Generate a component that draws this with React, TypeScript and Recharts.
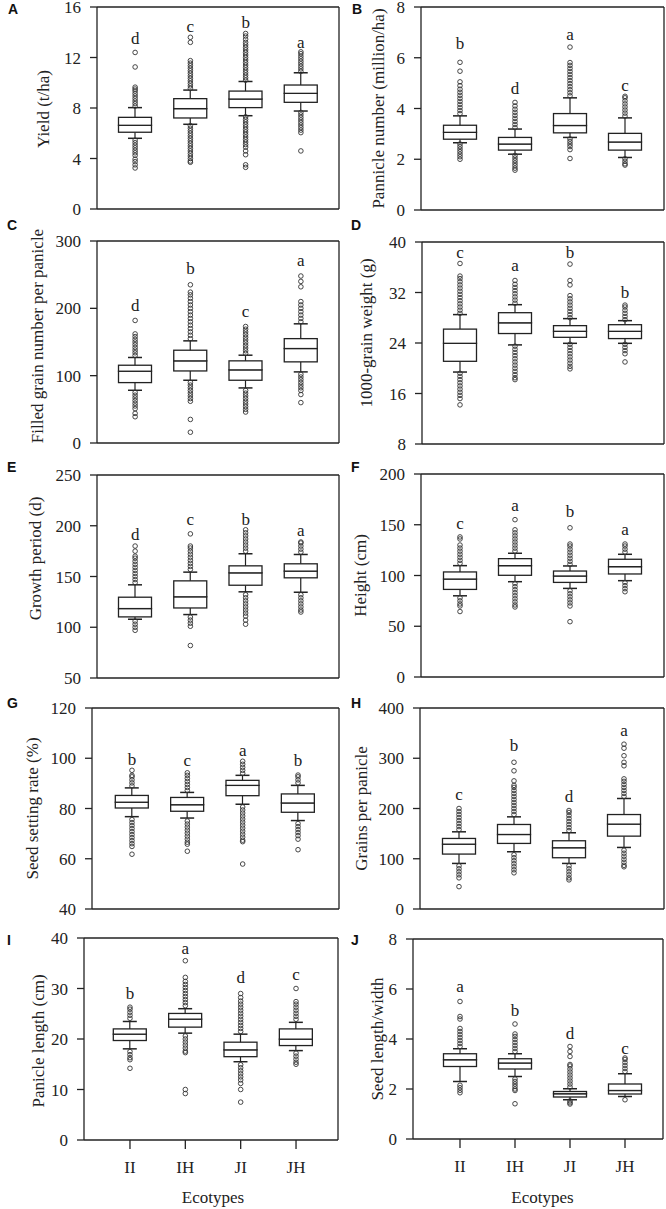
import React from 'react';
import { ComposedChart, Bar, Scatter, XAxis, YAxis } from 'recharts';

const categories = ['II', 'IH', 'JI', 'JH'];

// Each stats row: [lower whisker, Q1, median, Q3, upper whisker]
// A - Yield
const yieldTicks = [0, 4, 8, 12, 16];
const yieldStats = [
  [5.6, 6.08, 6.63, 7.26, 8.03],
  [6.71, 7.21, 7.95, 8.74, 9.42],
  [7.39, 8.03, 8.71, 9.34, 10.1],
  [7.76, 8.45, 9.16, 9.82, 10.79],
];
const yieldOutliers = [
  [8.15, 8.35, 8.55, 8.75, 8.95, 9.15, 9.35, 9.5, 9.65, 11.25, 12.4, 5.45, 5.25, 5.05, 4.85, 4.65, 4.45, 4.25, 3.95, 3.75, 3.5, 3.25],
  [9.55, 9.75, 9.95, 10.15, 10.35, 10.55, 10.75, 10.95, 11.15, 11.35, 11.55, 11.75, 13.2, 13.6, 6.6, 6.4, 6.2, 6.0, 5.8, 5.6, 5.4, 5.2, 5.0, 4.8, 4.6, 4.4, 4.2, 4.0, 3.8, 3.7],
  [10.2, 10.4, 10.6, 10.8, 11.0, 11.2, 11.4, 11.6, 11.8, 12.0, 12.2, 12.4, 12.6, 12.8, 13.0, 13.2, 13.45, 13.7, 13.9, 7.3, 7.1, 6.9, 6.7, 6.5, 6.3, 6.1, 5.9, 5.7, 5.5, 5.3, 5.1, 4.9, 4.6, 4.3, 3.5, 3.3],
  [10.9, 11.1, 11.3, 11.5, 11.7, 11.9, 12.1, 12.3, 12.45, 7.65, 7.45, 7.25, 7.05, 6.85, 6.65, 6.45, 6.25, 6.05, 4.6],
];
const yieldLetters = ['d', 'c', 'b', 'a'];
const yieldLetterY = [13.5, 14.47, 14.8, 13.16];

// B - Panicle number
const panicleTicks = [0, 2, 4, 6, 8];
const panicleStats = [
  [2.65, 2.79, 3.06, 3.34, 3.71],
  [2.2, 2.36, 2.6, 2.86, 3.19],
  [2.86, 3.04, 3.33, 3.8, 4.42],
  [2.07, 2.36, 2.68, 3.02, 3.63],
];
const panicleOutliers = [
  [3.8, 3.92, 4.04, 4.16, 4.28, 4.4, 4.52, 4.64, 4.76, 4.9, 5.05, 5.47, 5.82, 2.6, 2.5, 2.4, 2.3, 2.2, 2.1, 2.0],
  [3.25, 3.37, 3.49, 3.61, 3.73, 3.85, 3.97, 4.1, 4.24, 2.15, 2.05, 1.95, 1.85, 1.75, 1.65, 1.57],
  [4.5, 4.62, 4.74, 4.86, 4.98, 5.1, 5.22, 5.34, 5.46, 5.58, 5.7, 5.81, 6.42, 2.8, 2.7, 2.6, 2.5, 2.38, 2.03],
  [3.7, 3.82, 3.94, 4.06, 4.18, 4.3, 4.42, 4.48, 2.02, 1.92, 1.82, 1.77],
];
const panicleLetters = ['b', 'd', 'a', 'c'];
const panicleLetterY = [6.56, 4.79, 6.91, 4.92];

// C - Filled grain number per panicle
const filledTicks = [0, 100, 200, 300];
const filledStats = [
  [78.3, 89.7, 106.6, 115.5, 127],
  [93.2, 107, 122, 137.8, 151.7],
  [81.8, 93.2, 108.6, 122, 130.4],
  [105.6, 120.5, 140.3, 155, 177],
];
const filledOutliers = [
  [130, 134, 138, 142, 146, 150, 154, 158, 162, 182, 75, 71, 67, 63, 59, 55, 51, 44, 39],
  [155, 160, 165, 170, 175, 180, 185, 190, 195, 200, 205, 210, 215, 220, 224, 235, 90, 86, 82, 78, 74, 70, 66, 62, 35, 16],
  [133, 137, 141, 145, 149, 153, 157, 161, 165, 169, 173, 78, 74, 70, 66, 62, 58, 54, 50, 46],
  [180, 185, 190, 195, 200, 205, 210, 232, 240, 248, 102, 98, 94, 90, 86, 82, 78, 72, 60],
];
const filledLetters = ['d', 'b', 'c', 'a'];
const filledLetterY = [204.8, 259, 194.8, 271.7];

// D - 1000-grain weight
const tgwTicks = [8, 16, 24, 32, 40];
const tgwStats = [
  [19.4, 21.1, 23.95, 26.2, 28.5],
  [23.7, 25.5, 27.2, 28.8, 30.07],
  [23.95, 24.9, 25.85, 26.75, 27.86],
  [23.95, 24.7, 25.85, 26.9, 27.54],
];
const tgwOutliers = [
  [28.7, 29.2, 29.7, 30.2, 30.7, 31.2, 31.7, 32.2, 32.7, 33.2, 33.7, 34.2, 34.6, 36.6, 19.2, 18.7, 18.2, 17.7, 17.2, 16.7, 16.2, 15.7, 15.2, 14.2],
  [30.3, 30.8, 31.3, 31.8, 32.3, 32.8, 33.3, 33.9, 23.5, 23, 22.5, 22, 21.5, 21, 20.5, 20, 19.5, 19, 18.5, 18.2],
  [28.0, 28.5, 29, 29.5, 30, 30.5, 31, 31.5, 33.2, 33.9, 36.5, 23.8, 23.3, 22.8, 22.3, 21.8, 21.3, 20.8, 20.3, 19.9],
  [27.7, 28.2, 28.7, 29.2, 29.7, 30, 23.8, 23.3, 22.8, 22.3, 21.0],
];
const tgwLetters = ['c', 'a', 'b', 'b'];
const tgwLetterY = [38.3, 36.2, 38.26, 32.0];

// E - Growth period
const growthTicks = [50, 100, 150, 200, 250];
const growthStats = [
  [107.9, 110.2, 118.4, 129.6, 141.8],
  [112.5, 119, 130, 145.7, 154.3],
  [134.9, 141.4, 153.6, 160.5, 172.4],
  [134.5, 148.7, 155.3, 162.5, 171.7],
];
const growthOutliers = [
  [144, 147, 150, 153, 156, 159, 162, 165, 168, 170, 175, 180, 106, 103, 100, 97],
  [157, 160, 163, 166, 169, 172, 175, 178, 180, 192, 110, 107, 104, 101, 82],
  [175, 178, 181, 184, 187, 190, 193, 196, 132, 129, 126, 123, 120, 117, 114, 111, 107, 103],
  [174, 177, 180, 183, 184, 132, 129, 126, 123, 120, 117, 115],
];
const growthLetters = ['d', 'c', 'b', 'a'];
const growthLetterY = [191.4, 206.6, 206.6, 195.7];

// F - Height
const heightTicks = [0, 50, 100, 150, 200];
const heightStats = [
  [80, 86.3, 96.5, 103.5, 109.7],
  [93.9, 100.2, 109.7, 116.6, 121.9],
  [87.3, 93.2, 99.5, 104.4, 109.4],
  [94.9, 101.5, 108.7, 116, 120.9],
];
const heightOutliers = [
  [112, 115, 118, 121, 124, 127, 130, 136, 138, 78, 75, 72, 70, 64.5],
  [124, 127, 130, 133, 136, 139, 142, 145, 155, 92, 89, 86, 83, 80, 77, 74, 71, 69],
  [111, 114, 117, 120, 123, 126, 129, 131, 147, 85, 82, 79, 76, 73, 70, 54.5],
  [123, 126, 129, 131, 93, 90, 87, 84],
];
const heightLetters = ['c', 'a', 'b', 'a'];
const heightLetterY = [150.9, 169, 163, 145];

// G - Seed setting rate
const settingTicks = [40, 60, 80, 100, 120];
const settingStats = [
  [76.75, 80.2, 82.5, 85.2, 88.2],
  [76.2, 78.9, 81.5, 84.4, 86.4],
  [81.7, 85.1, 89.2, 91.2, 93.2],
  [75.2, 78.5, 82.2, 85.8, 89.2],
];
const settingOutliers = [
  [89, 90.2, 91.4, 92.6, 93.2, 95.2, 75.6, 74.4, 73.2, 72, 70.8, 69.6, 68.4, 67.2, 66, 64.9, 61.8],
  [87.2, 88.4, 89.6, 90.8, 92, 93.2, 94.2, 75, 73.8, 72.6, 71.4, 70.2, 69, 67.8, 66.6, 65.8, 63],
  [94, 95.2, 96.4, 97.6, 98.8, 80.6, 79.4, 78.2, 77, 75.8, 74.6, 73.4, 72.2, 71, 69.8, 68.6, 67.4, 66.8, 57.9],
  [90.2, 91.4, 92.6, 93.3, 74, 72.8, 71.6, 70.4, 69.2, 67.8, 63.6],
];
const settingLetters = ['b', 'c', 'a', 'b'];
const settingLetterY = [99.4, 99, 103.2, 99];

// H - Grains per panicle
const grainsTicks = [0, 100, 200, 300, 400];
const grainsStats = [
  [90.7, 109.3, 129, 140.4, 153.6],
  [113.9, 130.5, 148.3, 168.2, 183.4],
  [90.7, 102, 121.9, 135.8, 151.7],
  [122.5, 145, 168.9, 188, 219.9],
];
const grainsOutliers = [
  [158, 164, 170, 176, 182, 188, 194, 200, 86, 80, 74, 68, 62, 44.5],
  [188, 194, 200, 206, 212, 218, 224, 230, 236, 242, 246, 255, 275, 292, 108, 102, 96, 90, 84, 78, 72],
  [156, 162, 168, 174, 180, 186, 192, 196, 86, 80, 74, 68, 62, 58],
  [224, 230, 236, 242, 248, 254, 259, 285, 292, 305, 320, 328, 117, 111, 105, 99, 93, 87, 84],
];
const grainsLetters = ['c', 'b', 'd', 'a'];
const grainsLetterY = [227.8, 325.8, 223, 355.6];

// I - Panicle length
const plengthTicks = [0, 10, 20, 30, 40];
const plengthStats = [
  [18.05, 19.7, 20.96, 22.0, 23.47],
  [21.16, 22.35, 23.93, 25.06, 26],
  [15.5, 16.5, 17.85, 19.37, 20.96],
  [17.7, 18.7, 19.97, 22, 23.3],
];
const plengthOutliers = [
  [24.1, 24.7, 25.3, 25.9, 26.3, 17.5, 16.9, 16.3, 15.9, 14.2],
  [26.6, 27.2, 27.8, 28.4, 29, 29.6, 30.2, 30.8, 31.4, 32.2, 35.5, 20.6, 20, 19.4, 18.8, 18.2, 17.6, 17.3, 10, 9.2],
  [21.5, 22.1, 22.7, 23.3, 23.9, 24.5, 25.1, 25.7, 26.3, 26.9, 27.5, 28.2, 29, 14.9, 14.3, 13.7, 13.1, 12.5, 11.9, 11.2, 10.0, 7.5],
  [23.9, 24.5, 25.1, 25.7, 26.3, 26.9, 27.4, 30, 17.2, 16.6, 16, 15.4, 15],
];
const plengthLetters = ['b', 'a', 'd', 'c'];
const plengthLetterY = [29.1, 37.9, 32.1, 32.7];

// J - Seed length/width
const ratioTicks = [0, 2, 4, 6, 8];
const ratioStats = [
  [2.3, 2.9, 3.17, 3.41, 3.61],
  [2.5, 2.8, 3.04, 3.21, 3.41],
  [1.57, 1.68, 1.81, 1.9, 2.01],
  [1.7, 1.8, 1.94, 2.2, 2.61],
];
const ratioOutliers = [
  [3.7, 3.82, 3.94, 4.06, 4.18, 4.3, 4.42, 4.8, 4.9, 5.5, 2.15, 2.05, 1.95, 1.85],
  [3.5, 3.62, 3.74, 3.86, 3.98, 4.1, 4.2, 4.6, 2.4, 2.3, 2.2, 2.1, 2.0, 1.94, 1.41],
  [2.08, 2.2, 2.32, 2.44, 2.56, 2.68, 2.8, 2.92, 2.98, 3.3, 3.5, 3.7, 1.52, 1.45, 1.4],
  [2.7, 2.82, 2.94, 3.06, 3.18, 3.24, 1.57],
];
const ratioLetters = ['a', 'b', 'd', 'c'];
const ratioLetterY = [6.1, 5.14, 4.23, 3.64];

const INK = '#222';
const SERIF = "'Liberation Serif', 'Times New Roman', Times, serif";
const SANS = "'Liberation Sans', Arial, Helvetica, sans-serif";

type Layout = {
  tag: string; col: number; L: number; R: number; T: number; B: number;
  padL: number; padR: number; labelX: number; labelDy: number; bottom?: boolean;
  tagX: number; tagY: number;
};

const panels = [
  { title: 'Yield (t/ha)', ticks: yieldTicks, stats: yieldStats, outliers: yieldOutliers, letters: yieldLetters, letterY: yieldLetterY,
    lay: { tag: 'A', col: 0, L: 97, R: 339, T: 7, B: 209, padL: 10.5, padR: 10.5, labelX: 43, labelDy: 1, tagX: 8, tagY: 14 } },
  { title: 'Pannicle number (million/ha)', ticks: panicleTicks, stats: panicleStats, outliers: panicleOutliers, letters: panicleLetters, letterY: panicleLetterY,
    lay: { tag: 'B', col: 1, L: 421, R: 664, T: 7, B: 210, padL: 11.5, padR: 11.5, labelX: 378, labelDy: 0, tagX: 352, tagY: 14 } },
  { title: 'Filled grain number per panicle', ticks: filledTicks, stats: filledStats, outliers: filledOutliers, letters: filledLetters, letterY: filledLetterY,
    lay: { tag: 'C', col: 0, L: 97, R: 339, T: 241, B: 443, padL: 10.5, padR: 10.5, labelX: 37, labelDy: -6, tagX: 7, tagY: 230 } },
  { title: '1000-grain weight (g)', ticks: tgwTicks, stats: tgwStats, outliers: tgwOutliers, letters: tgwLetters, letterY: tgwLetterY,
    lay: { tag: 'D', col: 1, L: 422, R: 664, T: 242, B: 444, padL: 10.5, padR: 11.5, labelX: 366, labelDy: -10, tagX: 351, tagY: 230 } },
  { title: 'Growth period (d)', ticks: growthTicks, stats: growthStats, outliers: growthOutliers, letters: growthLetters, letterY: growthLetterY,
    lay: { tag: 'E', col: 0, L: 97, R: 339, T: 475, B: 678, padL: 10.5, padR: 10.5, labelX: 35, labelDy: -18, tagX: 7, tagY: 472 } },
  { title: 'Height (cm)', ticks: heightTicks, stats: heightStats, outliers: heightOutliers, letters: heightLetters, letterY: heightLetterY,
    lay: { tag: 'F', col: 1, L: 421, R: 664, T: 474, B: 677, padL: 11.5, padR: 11.5, labelX: 360, labelDy: 0, tagX: 351, tagY: 472 } },
  { title: 'Seed setting rate (%)', ticks: settingTicks, stats: settingStats, outliers: settingOutliers, letters: settingLetters, letterY: settingLetterY,
    lay: { tag: 'G', col: 0, L: 92, R: 339, T: 708, B: 909, padL: 12.3, padR: 13.3, labelX: 32, labelDy: 0, tagX: 7, tagY: 708 } },
  { title: 'Grains per panicle', ticks: grainsTicks, stats: grainsStats, outliers: grainsOutliers, letters: grainsLetters, letterY: grainsLetterY,
    lay: { tag: 'H', col: 1, L: 420, R: 664, T: 708, B: 909, padL: 11.5, padR: 12.5, labelX: 361, labelDy: 0, tagX: 351, tagY: 708 } },
  { title: 'Panicle length (cm)', ticks: plengthTicks, stats: plengthStats, outliers: plengthOutliers, letters: plengthLetters, letterY: plengthLetterY,
    lay: { tag: 'I', col: 0, L: 84, R: 338, T: 938, B: 1140, padL: 18.3, padR: 14.3, labelX: 38, labelDy: 2, tagX: 7, tagY: 945, bottom: true } },
  { title: 'Seed length/width', ticks: ratioTicks, stats: ratioStats, outliers: ratioOutliers, letters: ratioLetters, letterY: ratioLetterY,
    lay: { tag: 'J', col: 1, L: 413, R: 663, T: 939, B: 1139, padL: 19.5, padR: 10.5, labelX: 377, labelDy: 0, tagX: 351, tagY: 945, bottom: true } },
];

const Empty = () => <g />;

const span = (p: any) => {
  const top = Math.min(p.y, p.y + p.height);
  const bot = Math.max(p.y, p.y + p.height);
  return { top, bot, cx: p.x + p.width / 2 };
};

const LowerWhisker = (p: any) => {
  if (p.x == null || p.y == null) return <g />;
  const { top, bot, cx } = span(p);
  return (
    <g>
      <line x1={cx} x2={cx} y1={top} y2={bot} stroke={INK} strokeWidth={1.2} />
      <line x1={cx - 7} x2={cx + 7} y1={bot} y2={bot} stroke={INK} strokeWidth={1.5} />
    </g>
  );
};

const UpperWhisker = (p: any) => {
  if (p.x == null || p.y == null) return <g />;
  const { top, bot, cx } = span(p);
  return (
    <g>
      <line x1={cx} x2={cx} y1={top} y2={bot} stroke={INK} strokeWidth={1.2} />
      <line x1={cx - 7} x2={cx + 7} y1={top} y2={top} stroke={INK} strokeWidth={1.5} />
    </g>
  );
};

const BoxPart = (p: any) => {
  if (p.x == null || p.y == null) return <g />;
  const { top, bot } = span(p);
  return <rect x={p.x} y={top} width={p.width} height={bot - top} fill="#fff" stroke={INK} strokeWidth={1.3} />;
};

const OutlierMark = (p: any) => (
  <circle cx={p.cx} cy={p.cy} r={2.3} fill="none" stroke="#333" strokeWidth={0.9} />
);

const LetterMark = (p: any) => (
  <text x={p.cx} y={p.cy} textAnchor="middle" dominantBaseline="central" fontSize={17} fontFamily={SERIF} fill={INK}>
    {p.payload ? p.payload.t : ''}
  </text>
);

function Panel({ def }: { def: any }) {
  const lay: Layout = def.lay;
  const chartLeft = lay.col === 0 ? 0 : 340;
  const mt = 14;
  const chartTop = lay.T - mt - 1;
  const width = lay.R - chartLeft + 3;
  const xh = lay.bottom ? 1209 - lay.B : 16;
  const height = mt + 1 + (lay.B - lay.T) + xh;
  const yW = lay.L - chartLeft;

  const rows = categories.map((name, i) => {
    const s = def.stats[i];
    return { name, base: s[0], lw: s[1] - s[0], lb: s[2] - s[1], ub: s[3] - s[2], uw: s[4] - s[3] };
  });
  const outl = categories.flatMap((name, i) => def.outliers[i].map((v: number) => ({ name, v })));
  const lets = categories.map((name, i) => ({ name, v: def.letterY[i], t: def.letters[i] }));
  const dmin = def.ticks[0];
  const dmax = def.ticks[def.ticks.length - 1];
  const labelDx = lay.labelX - (chartLeft + yW / 2);
  const axisStyle = { stroke: INK, strokeWidth: 1.3 };
  const tickFont = { fontSize: 17, fill: INK, fontFamily: SERIF };

  return (
    <div style={{ position: 'absolute', left: chartLeft, top: chartTop }}>
      <ComposedChart width={width} height={height} data={rows} margin={{ top: mt, right: 2, bottom: 0, left: 0 }}>
        <XAxis
          dataKey="name"
          type="category"
          allowDuplicatedCategory={false}
          padding={{ left: lay.padL, right: lay.padR }}
          height={xh}
          tickSize={9}
          tickMargin={12}
          interval={0}
          axisLine={axisStyle}
          tickLine={axisStyle}
          tick={lay.bottom ? tickFont : false}
          label={lay.bottom ? { value: 'Ecotypes', position: 'insideBottom', offset: 1209 - 1203, dx: (lay.padL - lay.padR) / 2, fontSize: 17, fill: INK, fontFamily: SERIF } : undefined}
        />
        <XAxis xAxisId="top" orientation="top" type="number" domain={[0, 1]} ticks={[0, 1]} height={1} tick={false} tickLine={false} axisLine={axisStyle} />
        <YAxis
          type="number"
          domain={[dmin, dmax]}
          ticks={def.ticks}
          allowDataOverflow
          interval={0}
          width={yW}
          tickSize={7}
          tickMargin={9}
          axisLine={axisStyle}
          tickLine={axisStyle}
          tick={tickFont}
          label={{ value: def.title, angle: -90, position: 'center', dx: labelDx, dy: lay.labelDy, fontSize: 17, fill: INK, fontFamily: SERIF }}
        />
        <YAxis yAxisId="right" orientation="right" type="number" domain={[0, 1]} ticks={[0, 1]} width={1} tick={false} tickLine={false} axisLine={axisStyle} />
        <Bar dataKey="base" stackId="s" barSize={33} isAnimationActive={false} shape={Empty} />
        <Bar dataKey="lw" stackId="s" barSize={33} isAnimationActive={false} shape={LowerWhisker} />
        <Bar dataKey="lb" stackId="s" barSize={33} isAnimationActive={false} shape={BoxPart} />
        <Bar dataKey="ub" stackId="s" barSize={33} isAnimationActive={false} shape={BoxPart} />
        <Bar dataKey="uw" stackId="s" barSize={33} isAnimationActive={false} shape={UpperWhisker} />
        <Scatter data={outl} dataKey="v" isAnimationActive={false} shape={OutlierMark} />
        <Scatter data={lets} dataKey="v" isAnimationActive={false} shape={LetterMark} />
      </ComposedChart>
    </div>
  );
}

export default function App() {
  return (
    <div style={{ position: 'absolute', left: 0, top: 0, width: 666, height: 1209, background: '#fff', overflow: 'hidden' }}>
      {panels.map((p) => (
        <Panel key={p.lay.tag} def={p} />
      ))}
      <svg width={666} height={1209} style={{ position: 'absolute', left: 0, top: 0, pointerEvents: 'none' }}>
        {panels.map((p) => (
          <text key={p.lay.tag} x={p.lay.tagX} y={p.lay.tagY} fontFamily={SANS} fontWeight="bold" fontSize={14} fill="#111">
            {p.lay.tag}
          </text>
        ))}
      </svg>
    </div>
  );
}
